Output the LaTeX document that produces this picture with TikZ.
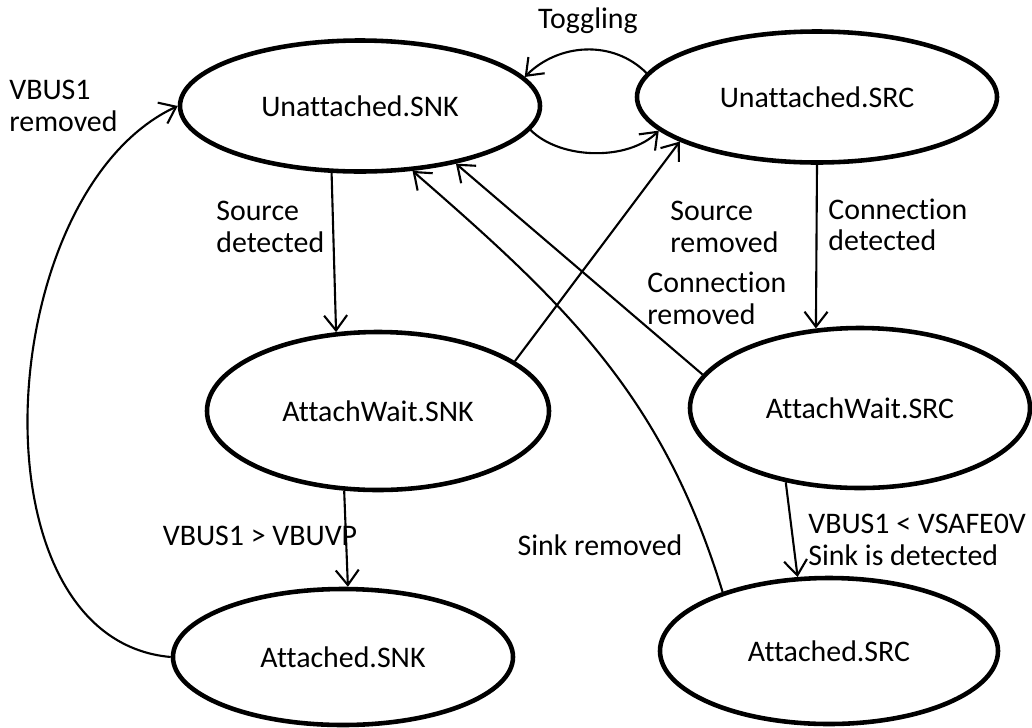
\documentclass[tikz,border=0pt]{standalone}
\usepackage{fontspec}
\setmainfont{Carlito}[Ligatures={NoCommon,NoContextual}]
\usepackage{tikz}
\usetikzlibrary{shapes.geometric, arrows.meta, positioning}

\begin{document}
\begin{tikzpicture}[
    state/.style={draw, ellipse, line width=2.6pt, inner sep=0pt, font=\fontsize{17}{18}\selectfont},
    trans/.style={line width=1.2pt, -{Straight Barb[length=3mm, width=4.6mm]}},
    lbl/.style={font=\fontsize{17}{18}\selectfont, align=left, inner sep=0pt}
]
    \useasboundingbox (0,0) rectangle (20.64,-14.54);

    % Unattached states
    \node[state, minimum width=7.2cm, minimum height=2.62cm] (usnk) at (7.20,-2.12) {Unattached.SNK};
    \node[state, minimum width=7.2cm, minimum height=2.62cm] (usrc) at (16.34,-1.94) {Unattached.SRC};

    % AttachWait states
    \node[state, minimum width=6.84cm, minimum height=3.16cm] (awsnk) at (7.56,-8.22) {AttachWait.SNK};
    \node[state, minimum width=6.8cm, minimum height=3.2cm] (awsrc) at (17.20,-8.16) {AttachWait.SRC};

    % Attached states
    \node[state, minimum width=6.8cm, minimum height=2.72cm] (asnk) at (6.86,-13.14) {Attached.SNK};
    \node[state, minimum width=6.76cm, minimum height=2.92cm] (asrc) at (16.58,-13.02) {Attached.SRC};

    % Toggling
    \draw[trans] (usrc.172) to[out=135, in=45] (usnk.10);
    \draw[trans] (usnk.-8) to[out=-45, in=-135, looseness=0.85] (usrc.192);

    % Sink side
    \draw[trans] (usnk.247) -- (awsnk.118);
    \draw[trans] (awsnk.247) -- (asnk.86);
    \draw[trans] (asnk.west) to[out=175, in=205, looseness=0.95] (usnk.west);

    % Source side
    \draw[trans] (usrc.south) -- (awsrc.119);
    \draw[trans] (awsrc.225) -- (asrc.113);

    % Removal paths
    \draw[trans] (awsnk.20.5) -- (usrc.198.7);
    \draw[trans] (awsrc.168.5) -- (usnk.-31);
    \draw[trans] (asrc.151.6) to[out=107, in=-41] (usnk.-51.6);

    % Labels
    \node[lbl] (ltog) at (11.76,-0.42) {Toggling};
    \node[lbl, anchor=west] (lvbusrem) at (0.18,-2.12) {VBUS1\\removed};
    \node[lbl, anchor=west] (lsrcdet) at (4.32,-4.54) {Source\\detected};
    \node[lbl, anchor=west] (lsrcrem) at (13.40,-4.54) {Source\\removed};
    \node[lbl, anchor=west] (lconndet) at (16.56,-4.5) {Connection\\detected};
    \node[lbl, anchor=west] (lconnrem) at (12.94,-5.96) {Connection\\removed};
    \node[lbl] (lvbuvp) at (5.2,-10.72) {VBUS1 > VBUVP};
    \node[lbl, anchor=west] (lvsafe) at (16.16,-10.8) {VBUS1 < VSAFE0V\\Sink is detected};
    \node[lbl] (lsinkrem) at (12.0,-10.9) {Sink removed};
\end{tikzpicture}
\end{document}
